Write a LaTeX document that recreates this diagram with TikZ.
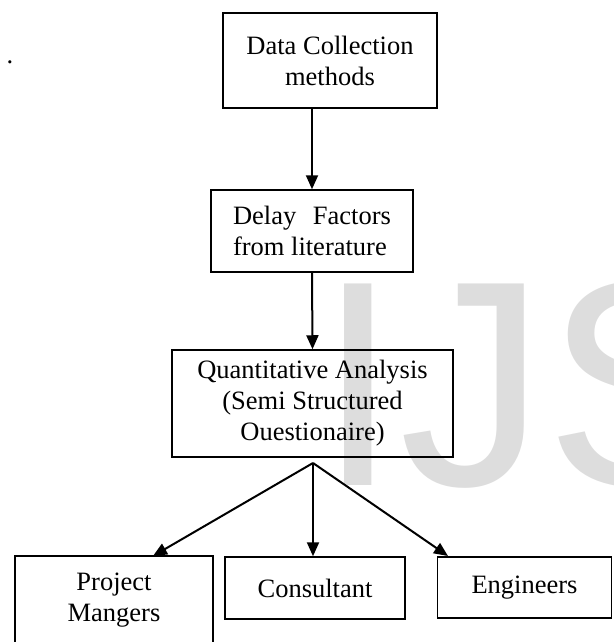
\documentclass[tikz,border=0pt]{standalone}
\usepackage{fontspec}
\setmainfont{Liberation Serif}
\newfontfamily\markfont{Liberation Sans}
\usepackage{tikz}
\usetikzlibrary{arrows.meta}
\definecolor{markgray}{RGB}{221,221,221}

\begin{document}
\begin{tikzpicture}[x=1pt, y=-1pt, >={Triangle[length=14pt,width=12pt]},
    every node/.style={font=\fontsize{26.5}{31}\selectfont},
    box/.style={draw, line width=1.5pt, inner sep=0pt, align=center},
    link/.style={line width=2pt, ->}]
    \useasboundingbox (0,0) rectangle (613,642);

    % watermark, behind the boxes
    \node[anchor=base west, inner sep=0pt, text=markgray, font=\markfont\fontsize{293}{293}\selectfont] (mark) at (317.5,485) {IJS};
    \node[anchor=base, inner sep=0pt] (dot) at (10,63.5) {.};

    % main chain
    \node[box, minimum width=214pt, minimum height=95pt] (collect) at (330,60.5) {Data Collection\\methods};
    \node[box, minimum width=202pt, minimum height=82pt] (delay) at (312,231) {\parbox{158pt}{Delay\hfill Factors\\from literature}};
    \node[box, minimum width=281pt, minimum height=107pt] (quant) at (312.5,403.5) {Quantitative Analysis\\(Semi Structured\\Ouestionaire)};

    \draw[link] (collect.south -| delay.north) -- (delay.north);
    \draw[link] (delay.south) -- (quant.north);

    % respondent groups
    \node[box, minimum width=198pt, minimum height=88pt] (project) at (114,600) {Project\\Mangers};
    \node[box, minimum width=180pt, minimum height=62pt] (consult) at (315,588) {Consultant};
    \node[box, minimum width=174pt, minimum height=61pt] (engineer) at (524.5,587.5) {Engineers};

    \coordinate (fork) at (313,463);
    \coordinate (tipL) at (153,556);
    \coordinate (tipR) at (448,556);
    \draw[link] (fork) -- (tipL);
    \draw[link] (fork) -- (fork |- consult.north);
    \draw[link] (fork) -- (tipR);
\end{tikzpicture}
\end{document}
